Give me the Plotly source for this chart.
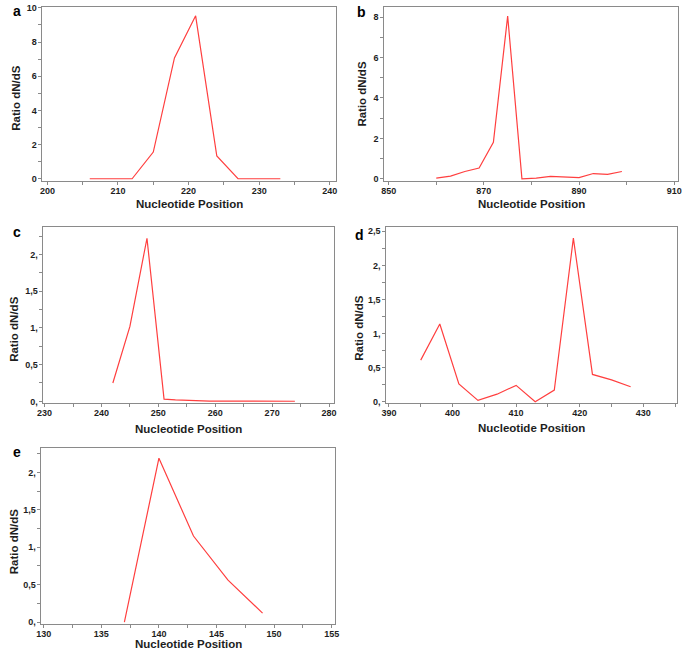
import plotly.graph_objects as go

# ---------------- data ----------------
a_pos = [206, 209, 212, 215, 218, 221, 224, 227, 230, 233]
a_ratio = [0, 0, 0, 1.56, 7.07, 9.53, 1.33, 0, 0, 0]

b_pos = [860, 863, 866, 869, 872, 875, 878, 881, 884, 887, 890, 893, 896, 899]
b_ratio = [0.03, 0.13, 0.36, 0.53, 1.8, 8.05, 0.0, 0.03, 0.12, 0.1, 0.06, 0.26, 0.22, 0.36]

c_pos = [242, 245, 248, 251, 253, 256, 259, 262, 265, 268, 271, 274]
c_ratio = [0.25, 1.02, 2.22, 0.03, 0.02, 0.01, 0.004, 0.003, 0.003, 0.003, 0.003, 0.002]

d_pos = [395, 398, 401, 404, 407, 410, 413, 416, 419, 422, 425, 428]
d_ratio = [0.61, 1.14, 0.26, 0.02, 0.11, 0.24, 0.0, 0.17, 2.40, 0.40, 0.32, 0.22]

e_pos = [137, 140, 143, 146, 149]
e_ratio = [0.0, 2.19, 1.15, 0.56, 0.12]

panel_labels = ["a", "b", "c", "d", "e"]
x_title = "Nucleotide Position"
y_title = "Ratio dN/dS"

y_vals_c = [0, 0.5, 1, 1.5, 2]
y_text_c = ["0,", "0,5", "1,", "1,5", "2,"]
y_vals_d = [0, 0.5, 1, 1.5, 2, 2.5]
y_text_d = ["0,", "0,5", "1,", "1,5", "2,", "2,5"]

# ---------------- layout ----------------
W, H = 685, 654
FONT = "Liberation Sans, Arial, sans-serif"
LINE = "#ff3f3f"
FRAME = "#8a8a8a"
TXT = "#1e1e1e"


def fx(p):
    return p / W


def fy(p):
    return 1 - p / H


panels = [
    dict(x=a_pos, y=a_ratio, px=(37, 335), py=(3, 179), xr=[199.3, 240.9], yr=[-0.12, 10.05],
         x0=200, xd=10, yd=2, yv=None, yt=None, ymin=1,
         lab=(11, 7), xt=(186, 202, "middle"), yt_pos=(10, 95)),
    dict(x=b_pos, y=b_ratio, px=(384, 682), py=(3, 179), xr=[849.1, 910.8], yr=[-0.1, 8.5],
         x0=850, xd=20, yd=2, yv=None, yt=None, ymin=1,
         lab=(361, 8), xt=(533, 202, "middle"), yt_pos=(361, 91)),
    dict(x=c_pos, y=c_ratio, px=(38, 333), py=(226, 404), xr=[229.8, 280.9], yr=[-0.023, 2.37],
         x0=230, xd=10, yd=None, yv=y_vals_c, yt=y_text_c, ymin=0.25,
         lab=(11, 231), xt=(185, 430, "middle"), yt_pos=(8, 329)),
    dict(x=d_pos, y=d_ratio, px=(386, 681), py=(226, 404), xr=[389.6, 435.3], yr=[-0.02, 2.56],
         x0=390, xd=10, yd=None, yv=y_vals_d, yt=y_text_d, ymin=0.25,
         lab=(359, 234), xt=(533, 429, "middle"), yt_pos=(358, 328)),
    dict(x=e_pos, y=e_ratio, px=(36, 334), py=(450, 628), xr=[129.8, 155.3], yr=[-0.03, 2.32],
         x0=130, xd=5, yd=None, yv=y_vals_c, yt=y_text_c, ymin=0.25,
         lab=(11, 454), xt=(185, 655, "bottom"), yt_pos=(8, 544)),
]

fig = go.Figure()
annotations = []
layout = {}
for i, p in enumerate(panels):
    n = "" if i == 0 else str(i + 1)
    fig.add_trace(go.Scatter(x=p["x"], y=p["y"], mode="lines",
                             line=dict(color=LINE, width=1.2),
                             xaxis="x" + n, yaxis="y" + n, showlegend=False,
                             hoverinfo="skip"))
    common = dict(showline=True, mirror=True, linecolor=FRAME, linewidth=1,
                  showgrid=False, zeroline=False, ticks="outside", ticklen=3,
                  tickcolor=FRAME, tickwidth=1, ticklabeloverflow="allow",
                  tickfont=dict(family=FONT, size=9, color=TXT, weight="bold"),
                  fixedrange=True)
    xa = dict(domain=[fx(p["px"][0]), fx(p["px"][1])], range=p["xr"],
              anchor="y" + n, tick0=p["x0"], dtick=p["xd"],
              ticklabelstandoff=-2,
              minor=dict(ticks="outside", ticklen=3, dtick=p["xd"] / 2,
                         tickcolor=FRAME, showgrid=False),
              **common)
    ya = dict(domain=[fy(p["py"][1]), fy(p["py"][0])], range=p["yr"],
              anchor="x" + n,
              minor=dict(ticks="outside", ticklen=3, dtick=p["ymin"],
                         tickcolor=FRAME, showgrid=False),
              **common)
    if p["yv"] is not None:
        ya.update(tickmode="array", tickvals=p["yv"], ticktext=p["yt"])
    else:
        ya.update(tick0=0, dtick=p["yd"])
    layout["xaxis" + n] = xa
    layout["yaxis" + n] = ya

    annotations.append(dict(text=panel_labels[i], xref="paper", yref="paper",
                            x=fx(p["lab"][0]), y=fy(p["lab"][1]),
                            xanchor="center", yanchor="middle", showarrow=False,
                            font=dict(family=FONT, size=14, color="#000", weight="bold")))
    annotations.append(dict(text=x_title, xref="paper", yref="paper",
                            x=fx(p["xt"][0]), y=fy(p["xt"][1]),
                            xanchor="center", yanchor=p["xt"][2], showarrow=False,
                            borderpad=0,
                            font=dict(family=FONT, size=11.5, color=TXT, weight="bold")))
    annotations.append(dict(text=y_title, xref="paper", yref="paper",
                            x=fx(p["yt_pos"][0]), y=fy(p["yt_pos"][1]),
                            xanchor="center", yanchor="middle", showarrow=False,
                            textangle=-90,
                            font=dict(family=FONT, size=11.5, color=TXT, weight="bold")))

fig.update_layout(width=W, height=H, margin=dict(l=0, r=0, t=0, b=0),
                  paper_bgcolor="white", plot_bgcolor="white",
                  annotations=annotations, **layout)

fig.write_html("out.html", config={"displayModeBar": False},
               post_script="document.body.style.margin='0';document.body.style.overflow='hidden';")
